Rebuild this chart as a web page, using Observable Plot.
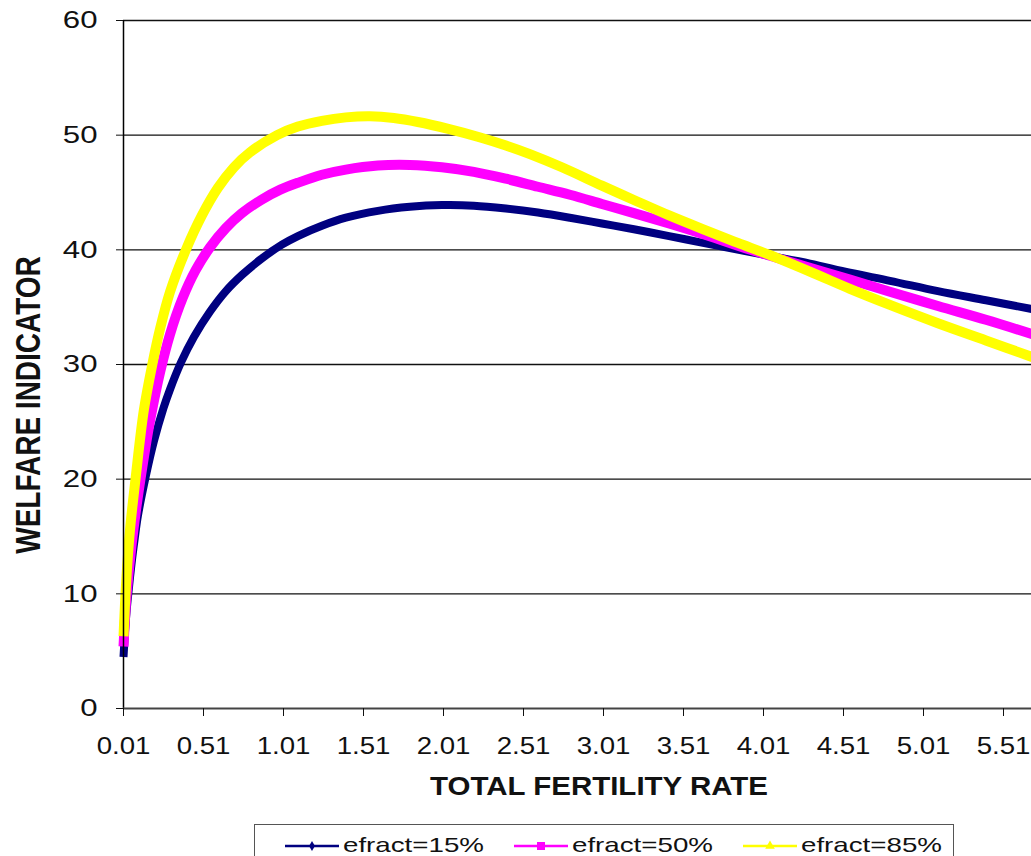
<!DOCTYPE html>
<html>
<head>
<meta charset="utf-8">
<script src="https://cdn.jsdelivr.net/npm/d3@7"></script>
<script src="https://cdn.jsdelivr.net/npm/@observablehq/plot@0.6"></script>
<style>
  html, body { margin: 0; padding: 0; background: #fff; overflow: hidden; }
  #wrap { position: relative; width: 1031px; height: 856px; overflow: hidden; }
  #legend { position: absolute; left: 254px; top: 824px; width: 700px; height: 44px; border: 1px solid #555; box-sizing: border-box; background: #fff; }
</style>
</head>
<body>
<div id="wrap"><div id="chart"></div><div id="legend"></div></div>
<script>
// ---- data ----
const seriesNames = ["efract=15%", "efract=50%", "efract=85%"];
const seriesColors = ["#000080", "#ff00ff", "#ffff00"];

const tfr15 = [0.01,0.02,0.03,0.04,0.06,0.08,0.10,0.15,0.20,0.26,0.30,0.37,0.45,0.55,0.65,0.75,0.87,1.00,1.10,1.25,1.40,1.60,1.80,2.00,2.20,2.40,2.60,2.80,3.00,3.20,3.42,3.60,3.80,4.04,4.30,4.55,4.80,5.10,5.40,5.70];
const w15   = [4.5,6.8,8.6,10.0,12.6,14.8,16.8,20.3,23.3,26.2,27.8,30.2,32.4,34.6,36.4,37.8,39.2,40.45,41.2,42.1,42.8,43.4,43.75,43.9,43.85,43.6,43.25,42.8,42.3,41.8,41.2,40.7,40.15,39.5,38.8,38.0,37.3,36.4,35.6,34.8];

const tfr50 = [0.01,0.02,0.03,0.06,0.09,0.116,0.15,0.18,0.24,0.30,0.38,0.46,0.55,0.65,0.75,0.87,0.99,1.10,1.25,1.40,1.60,1.80,2.00,2.20,2.40,2.60,2.80,3.00,3.20,3.42,3.65,3.93,4.20,4.55,4.80,5.10,5.40,5.70];
const w50   = [5.4,8.0,10.0,14.2,17.5,20.0,23.0,25.4,29.4,32.6,35.8,38.2,40.2,41.9,43.2,44.35,45.25,45.85,46.55,47.0,47.35,47.4,47.2,46.8,46.2,45.5,44.8,44.0,43.2,42.3,41.3,40.0,38.85,37.4,36.35,35.1,33.9,32.6];

const tfr85 = [0.01,0.02,0.03,0.05,0.085,0.137,0.19,0.24,0.30,0.40,0.50,0.60,0.70,0.80,0.97,1.10,1.25,1.40,1.55,1.70,1.85,2.04,2.24,2.40,2.55,2.75,3.00,3.20,3.42,3.65,3.85,4.04,4.30,4.55,4.80,5.10,5.40,5.70];
const w85   = [6.3,9.3,11.8,15.5,20.0,26.0,30.0,33.2,36.3,40.0,43.0,45.4,47.2,48.5,50.0,50.75,51.25,51.55,51.65,51.5,51.15,50.55,49.8,49.1,48.35,47.2,45.6,44.35,43.0,41.7,40.6,39.6,38.1,36.6,35.2,33.6,32.1,30.6];

const xTicks = [0.01,0.51,1.01,1.51,2.01,2.51,3.01,3.51,4.01,4.51,5.01,5.51];
const yTicks = [0,10,20,30,40,50,60];
const xTitle = "TOTAL FERTILITY RATE";
const yTitle = "WELFARE INDICATOR";

// ---- build table ----
const rows = [];
[[tfr15, w15], [tfr50, w50], [tfr85, w85]].forEach(([xs, ys], i) => {
  xs.forEach((x, j) => rows.push({series: seriesNames[i], x, y: ys[j]}));
});

const widths = [8, 10, 10];

const marks = [
  Plot.gridY(yTicks.filter(d => d > 0), {stroke: "#111", strokeOpacity: 1, strokeWidth: 1.3}),
  ...seriesNames.map((s, i) => Plot.line(rows.filter(r => r.series === s), {
    x: "x", y: "y", stroke: seriesColors[i], strokeWidth: widths[i], curve: "catmull-rom", strokeLinecap: "butt"
  })),
  Plot.ruleX([xTicks[0]], {stroke: "#000", strokeWidth: 1.5}),
  Plot.ruleY([0], {stroke: "#444", strokeWidth: 2}),
  Plot.axisY(yTicks, {tickSize: 7, tickPadding: 19, fontSize: 24, label: null, stroke: "#111"}),
  Plot.axisX(xTicks, {tickSize: 8, tickPadding: 21, fontSize: 23, label: null, tickFormat: d => d.toFixed(2), stroke: "#111"})
];

const plot = Plot.plot({
  width: 1031,
  height: 856,
  marginLeft: 123,
  marginRight: 0,
  marginTop: 20,
  marginBottom: 148,
  style: {background: "#fff", fontFamily: "'Liberation Sans', Arial, sans-serif", color: "#111"},
  x: {domain: [0.01, 5.685], label: null},
  y: {domain: [0, 60], label: null},
  marks
});
document.getElementById("chart").appendChild(plot);

const svg = d3.select(plot);
// stretch tick labels horizontally like the reference
svg.selectAll('g[aria-label="y-axis tick label"] text').each(function () {
  const L = this.getComputedTextLength();
  this.setAttribute("textLength", L * 1.3);
  this.setAttribute("lengthAdjust", "spacingAndGlyphs");
});
svg.selectAll('g[aria-label="x-axis tick label"] text').each(function () {
  const L = this.getComputedTextLength();
  this.setAttribute("textLength", L * 1.2);
  this.setAttribute("lengthAdjust", "spacingAndGlyphs");
});

// axis titles
const xt = svg.append("text")
  .attr("x", 599).attr("y", 795)
  .attr("text-anchor", "middle")
  .attr("font-weight", "bold").attr("font-size", 26)
  .attr("fill", "#111")
  .text(xTitle);
xt.attr("textLength", 338).attr("lengthAdjust", "spacingAndGlyphs");

svg.append("text")
  .attr("transform", "translate(40,405) rotate(-90) scale(1,1.25)")
  .attr("text-anchor", "middle")
  .attr("font-weight", "bold").attr("font-size", 28)
  .attr("fill", "#111")
  .text(yTitle);

// legend
const lg = d3.select("#legend").append("svg").attr("width", 700).attr("height", 44)
  .style("font-family", "'Liberation Sans', Arial, sans-serif");
const itemX = [30, 259, 488];
seriesNames.forEach((s, i) => {
  const g = lg.append("g").attr("transform", `translate(${itemX[i]},21)`);
  g.append("line").attr("x1", 0).attr("x2", 54).attr("y1", 0).attr("y2", 0)
    .attr("stroke", seriesColors[i]).attr("stroke-width", 2.5);
  if (i === 0) g.append("path").attr("d", d3.symbol(d3.symbolDiamond, 30)()).attr("transform", "translate(27,0)").attr("fill", seriesColors[i]);
  if (i === 1) g.append("rect").attr("x", 23).attr("y", -4).attr("width", 8).attr("height", 8).attr("fill", seriesColors[i]);
  if (i === 2) g.append("path").attr("d", d3.symbol(d3.symbolTriangle, 40)()).attr("transform", "translate(27,0)").attr("fill", seriesColors[i]);
  const t = g.append("text").attr("x", 58).attr("y", 6).attr("font-size", 21).attr("fill", "#111").text(s);
  t.attr("textLength", 141).attr("lengthAdjust", "spacingAndGlyphs");
});
</script>
</body>
</html>
